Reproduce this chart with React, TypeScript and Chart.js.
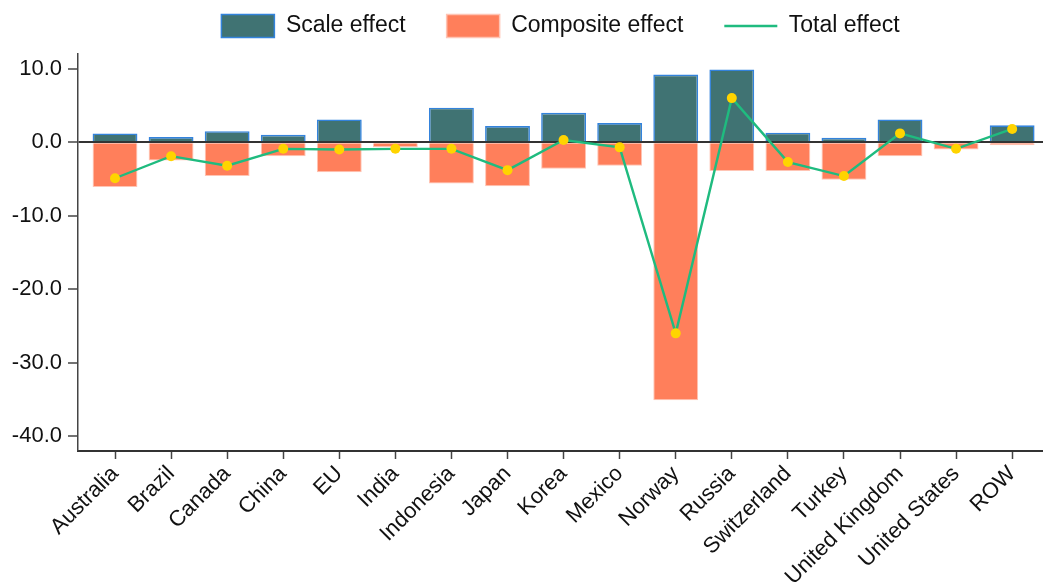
import React, { useEffect, useRef } from "react";
import { Chart, registerables } from "chart.js";

Chart.register(...registerables);

const categories = [
  "Australia", "Brazil", "Canada", "China", "EU", "India", "Indonesia", "Japan",
  "Korea", "Mexico", "Norway", "Russia", "Switzerland", "Turkey",
  "United Kingdom", "United States", "ROW",
];
const scaleEffect = [1.2, 0.7, 1.5, 1.0, 3.1, 0.0, 4.7, 2.2, 4.0, 2.6, 9.2, 9.9, 1.3, 0.6, 3.1, 0.2, 2.3];
const compositeEffect = [-6.1, -2.5, -4.6, -1.9, -4.1, -0.7, -5.6, -6.0, -3.6, -3.2, -35.1, -3.9, -3.9, -5.1, -1.9, -1.0, -0.4];
const totalEffect = [-4.9, -1.9, -3.2, -0.9, -1.0, -0.9, -0.9, -3.8, 0.3, -0.7, -26.0, 6.0, -2.7, -4.6, 1.2, -0.9, 1.8];
const yTicks = [-40, -30, -20, -10, 0, 10];

const FONT = "'Liberation Sans', Arial, sans-serif";
const LEGEND_FONT = 23;
const LEGEND_PAD = 41;
const TICK_FONT = 22;

const legendFix = {
  id: "legendFix",
  beforeLayout(chart: any) {
    const lg = chart.legend;
    if (lg && !lg.__patched) {
      const orig = lg.fit.bind(lg);
      lg.fit = function () {
        orig();
        this.height = 54;
      };
      lg.__patched = true;
    }
  },
  afterLayout(chart: any) {
    const lg = chart.legend;
    const ca = chart.chartArea;
    if (!lg) return;
    lg.left = ca.left;
    lg.right = ca.right;
    lg.width = ca.right - ca.left;
    lg.top = 26 - LEGEND_FONT / 2 - LEGEND_PAD;
    lg.bottom = 54;
    lg.height = lg.bottom - lg.top;
  },
};

export default function App() {
  const ref = useRef<HTMLCanvasElement>(null);

  useEffect(() => {
    if (!ref.current) return;
    const pts = (arr: number[]) => arr.map((v, i) => ({ x: i, y: v }));
    const chart = new Chart(ref.current, {
      type: "bar",
      data: {
        datasets: [
          {
            type: "bar",
            label: "Scale effect",
            data: pts(scaleEffect),
            backgroundColor: "#407373",
            borderColor: "#3383dc",
            borderWidth: 1.6,
            categoryPercentage: 0.8,
            barPercentage: 1,
            order: 2,
          },
          {
            type: "bar",
            label: "Composite effect",
            data: pts(compositeEffect),
            backgroundColor: "#ff7f5b",
            borderColor: "#ffc4b4",
            borderWidth: 1,
            categoryPercentage: 0.8,
            barPercentage: 1,
            order: 2,
          },
          {
            type: "line",
            label: "Total effect",
            data: pts(totalEffect),
            borderColor: "#1fbb7f",
            borderWidth: 2.4,
            pointRadius: 5,
            pointBackgroundColor: "#ffd400",
            pointBorderColor: "#ffd400",
            pointBorderWidth: 0,
            tension: 0,
            stack: "line",
            order: 0,
          } as any,
        ],
      },
      options: {
        responsive: false,
        animation: false,
        layout: { padding: 0, autoPadding: false },
        plugins: {
          tooltip: { enabled: false },
          legend: {
            position: "top",
            labels: {
              usePointStyle: true,
              pointStyleWidth: 53,
              boxHeight: 25,
              padding: LEGEND_PAD,
              color: "#111",
              font: { family: FONT, size: LEGEND_FONT },
              generateLabels: (c: any) =>
                c.data.datasets.map((ds: any, i: number) => ({
                  text: ds.label,
                  fillStyle: i === 2 ? "rgba(0,0,0,0)" : ds.backgroundColor,
                  strokeStyle: ds.borderColor,
                  lineWidth: i === 2 ? 2.5 : 1.5,
                  pointStyle: i === 2 ? "line" : "rect",
                  hidden: false,
                  datasetIndex: i,
                  fontColor: "#111",
                })),
            },
          },
        },
        scales: {
          x: {
            type: "linear",
            min: -0.66,
            max: 16.55,
            stacked: true,
            offset: false,
            afterBuildTicks: (s: any) => {
              s.ticks = categories.map((_, i) => ({ value: i }));
            },
            afterFit: (s: any) => {
              s.height = 134;
              s.paddingRight = 0;
              s.paddingLeft = 0;
            },
            grid: {
              offset: false,
              drawOnChartArea: false,
              drawTicks: true,
              tickLength: 8,
              tickColor: "#444",
              tickWidth: 1.5,
            },
            border: { display: true, color: "#333", width: 2 },
            ticks: {
              autoSkip: false,
              minRotation: 45,
              maxRotation: 45,
              padding: 2,
              color: "#111",
              font: { family: FONT, size: TICK_FONT },
              callback: (v: any) => categories[v as number] ?? "",
            },
          },
          y: {
            type: "linear",
            min: -42,
            max: 12,
            stacked: true,
            afterBuildTicks: (s: any) => {
              s.ticks = yTicks.map((v) => ({ value: v }));
            },
            afterFit: (s: any) => {
              s.width = 78;
            },
            grid: {
              drawTicks: true,
              tickLength: 10,
              tickColor: "#444",
              tickWidth: 1.5,
              color: (ctx: any) => (ctx.tick && ctx.tick.value === 0 ? "#333" : "rgba(0,0,0,0)"),
              lineWidth: (ctx: any) => (ctx.tick && ctx.tick.value === 0 ? 2 : 0),
            },
            border: { display: true, color: "#444", width: 1.5 },
            ticks: {
              padding: 6,
              color: "#111",
              font: { family: FONT, size: TICK_FONT },
              callback: (v: any) => Number(v).toFixed(1),
            },
          },
        },
      } as any,
      plugins: [legendFix],
    });
    return () => chart.destroy();
  }, []);

  return (
    <div style={{ position: "absolute", left: 0, top: 0, width: 1043, height: 585, background: "#fff" }}>
      <canvas ref={ref} width={1043} height={585} style={{ display: "block" }} />
    </div>
  );
}
